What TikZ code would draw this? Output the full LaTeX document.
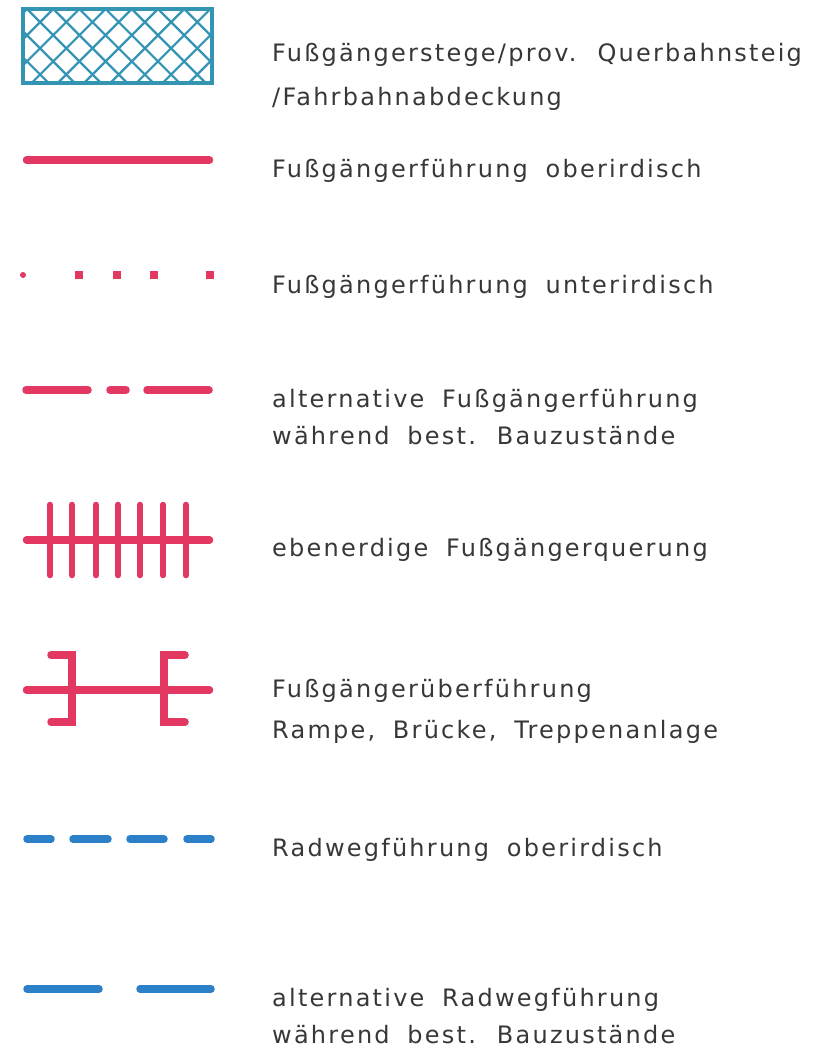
\documentclass[tikz,border=0pt]{standalone}
\usepackage{fontspec}
\newfontfamily\lgfont[LetterSpace=9.3,WordSpace=1.8]{DejaVu Sans}
\definecolor{pinkred}{RGB}{226,56,98}
\definecolor{bluew}{RGB}{44,128,200}
\definecolor{teal}{RGB}{52,148,180}
\definecolor{txt}{RGB}{55,55,55}
\begin{document}
\begin{tikzpicture}[x=1pt,y=-1pt,
  lbl/.style={anchor=base west,inner sep=0pt,font=\lgfont\fontsize{24}{26}\selectfont,text=txt},
  pk/.style={draw=pinkred,line width=7.5pt,line cap=round},
  pkthin/.style={draw=pinkred,line width=5.5pt,line cap=round},
  bl/.style={draw=bluew,line width=7.5pt,line cap=round}]
\useasboundingbox (0,0) rectangle (815,1051);
% 1 hatched box
\begin{scope}
\clip (23,9) rectangle (212,83);
\foreach \k in {-4,...,10}{
  \draw[teal,line width=2.2pt] ({27+26.2*\k},9) -- ({27+26.2*\k+80},89);
  \draw[teal,line width=2.2pt] ({27+26.2*\k},9) -- ({27+26.2*\k-80},89);
}
\end{scope}
\draw[teal,line width=3.5pt] (23,9) rectangle (212,83);
\node[lbl] (t1a) at (272,62) {Fußgängerstege/prov. Querbahnsteig};
\node[lbl] (t1b) at (272,106) {/Fahrbahnabdeckung};
% 2 solid
\draw[pk] (26.5,160) -- (209.5,160);
\node[lbl] (t2) at (272,178) {Fußgängerführung oberirdisch};
% 3 dotted
\fill[pinkred] (23,275) circle (3);
\foreach \x in {79,117,154,210}{\fill[pinkred] (\x-4,271) rectangle (\x+4,279);}
\node[lbl] (t3) at (272,293) {Fußgängerführung unterirdisch};
% 4 dashed alt
\draw[pk] (26,390) -- (88,390);
\draw[pk] (110,390) -- (126,390);
\draw[pk] (147,390) -- (209,390);
\node[lbl] (t4a) at (272,407) {alternative Fußgängerführung};
\node[lbl] (t4b) at (272,444) {während best. Bauzustände};
% 5 ladder
\draw[pk] (26.5,540) -- (209.5,540);
\foreach \x in {50,72,96,118,140,163,186}{\draw[pkthin] (\x,504.5) -- (\x,575.5);}
\node[lbl] (t5) at (272,556) {ebenerdige Fußgängerquerung};
% 6 bridge
\draw[pk] (26.5,690) -- (209.5,690);
\draw[pk,line join=miter] (51,655) -- (72,655) -- (72,722) -- (51,722);
\draw[pk,line join=miter] (185,655) -- (164,655) -- (164,722) -- (185,722);
\node[lbl] (t6a) at (272,697) {Fußgängerüberführung};
\node[lbl] (t6b) at (272,738) {Rampe, Brücke, Treppenanlage};
% 7 blue dashes
\draw[bl] (27,839) -- (51,839);
\draw[bl] (73,839) -- (108,839);
\draw[bl] (130,839) -- (164,839);
\draw[bl] (187,839) -- (211,839);
\node[lbl] (t7) at (272,856) {Radwegführung oberirdisch};
% 8 blue alt
\draw[bl] (27,989) -- (99,989);
\draw[bl] (140,989) -- (211,989);
\node[lbl] (t8a) at (272,1006) {alternative Radwegführung};
\node[lbl] (t8b) at (272,1043) {während best. Bauzustände};
\end{tikzpicture}
\end{document}
